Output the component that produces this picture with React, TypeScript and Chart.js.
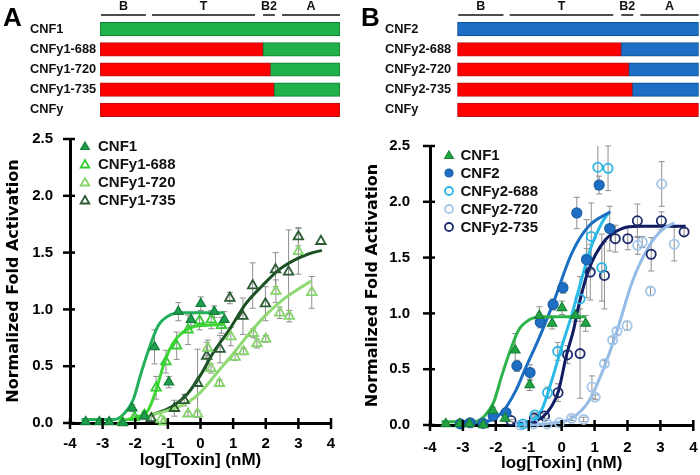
import React, { useEffect, useRef } from 'react';
import { Chart, registerables } from 'chart.js';

Chart.register(...registerables);

const FONT = '"Liberation Sans", Arial, Helvetica, sans-serif';
const TITLE_FONT = '"DejaVu Sans", "Liberation Sans", Arial, sans-serif';

// ---------------- schematic (residue numbers) ----------------
const residueTotal = 1014;
const domainLabels = ['B', 'T', 'B2', 'A'];
const domainStart = [4, 220, 689, 769];
const domainEnd = [194, 655, 739, 1014];
const constructsA = ['CNF1', 'CNFy1-688', 'CNFy1-720', 'CNFy1-735', 'CNFy'];
const constructsB = ['CNF2', 'CNFy2-688', 'CNFy2-720', 'CNFy2-735', 'CNFy'];
const cnfyJunction = [0, 688, 720, 735, 1014];

// ---------------- axis tick labels ----------------
const xTickLabels = ['-4', '-3', '-2', '-1', '0', '1', '2', '3', '4'];
const yTickLabels = ['0.0', '0.5', '1.0', '1.5', '2.0', '2.5'];

// ---------------- panel A data ----------------
const cnf1X = [-3.52, -3.1, -2.8, -2.38, -2.09, -1.72, -1.41, -0.97, -0.68, -0.29, 0.01, 0.42, 0.73];
const cnf1Y = [0.01, 0.01, 0.01, 0.0, 0.13, 0.06, 0.67, 0.36, 0.98, 0.91, 1.05, 0.98, 0.91];
const cnf1Err = [0, 0, 0, 0, 0.03, 0.03, 0.15, 0.05, 0.08, 0.05, 0.06, 0.05, 0.07];

const y1688X = [-2.4, -2.02, -1.72, -1.36, -1.06, -0.73, -0.38, -0.03, 0.33, 0.64];
const y1688Y = [0.01, 0.05, 0.07, 0.31, 0.54, 0.68, 0.82, 0.9, 0.91, 0.86];
const y1688Err = [0, 0.02, 0.03, 0.1, 0.1, 0.12, 0.13, 0.08, 0.08, 0.07];

const y1720X = [-1.21, -1.12, -0.38, -0.09, 0.22, 0.32, 0.58, 0.93, 1.06, 1.32, 1.62, 1.73, 2.0, 2.31, 2.43, 2.72, 3.0, 3.41];
const y1720Y = [0.03, 0.01, 0.08, 0.08, 0.66, 0.48, 0.35, 0.76, 0.58, 0.63, 0.79, 0.7, 0.74, 1.16, 0.97, 0.94, 1.51, 1.15];
const y1720Err = [0, 0, 0.02, 0.03, 0.07, 0.04, 0.03, 0.08, 0.03, 0.03, 0.04, 0.04, 0.03, 0.1, 0.05, 0.05, 0.2, 0.14];

const y1735X = [-1.51, -0.8, -0.5, -0.09, 0.19, 0.6, 0.9, 1.3, 1.6, 1.99, 2.3, 2.7, 3.0, 3.69];
const y1735Y = [0.04, 0.13, 0.2, 0.35, 0.59, 0.65, 1.1, 0.94, 1.21, 1.05, 1.35, 1.33, 1.64, 1.6];
const y1735Err = [0.02, 0.07, 0.05, 0.3, 0.12, 0.12, 0.05, 0.16, 0.2, 0.15, 0.15, 0.37, 0.08, 0];

const fitCnf1X = [-3.65, -2.64, -2.33, -2.07, -1.82, -1.57, -1.31, -1.0, -0.6, 0.73];
const fitCnf1Y = [0.03, 0.03, 0.085, 0.2, 0.44, 0.66, 0.85, 0.94, 0.97, 0.97];
const fitY1688X = [-2.43, -1.92, -1.61, -1.36, -1.11, -0.85, -0.54, -0.19, 0.22, 0.73];
const fitY1688Y = [0.02, 0.055, 0.11, 0.29, 0.53, 0.7, 0.8, 0.85, 0.86, 0.87];
const fitY1720X = [-1.53, -0.9, -0.4, 0.0, 0.5, 1.0, 1.5, 2.0, 2.5, 3.0, 3.4];
const fitY1720Y = [0.07, 0.12, 0.18, 0.27, 0.44, 0.61, 0.79, 0.95, 1.08, 1.18, 1.25];
const fitY1735X = [-1.51, -0.9, -0.39, 0.02, 0.37, 0.88, 1.39, 1.9, 2.41, 2.92, 3.33, 3.72];
const fitY1735Y = [0.07, 0.14, 0.26, 0.43, 0.61, 0.82, 1.05, 1.21, 1.35, 1.44, 1.49, 1.52];

// ---------------- panel B data ----------------
const cnf2X = [-3.08, -2.78, -2.39, -2.08, -1.69, -1.36, -0.96, -0.65, -0.26, 0.04, 0.46, 0.76, 1.14, 1.46];
const cnf2Y = [0.01, 0.02, 0.015, 0.08, 0.11, 0.53, 0.47, 0.92, 1.08, 1.23, 1.9, 1.48, 2.15, 1.76];
const cnf2Err = [0, 0, 0, 0.02, 0.03, 0.05, 0.07, 0.05, 0.05, 0.05, 0.14, 0.1, 0.08, 0.2];

const y2688X = [-1.17, -0.81, -0.43, -0.12, 0.56, 0.76, 0.9, 1.1, 1.22, 1.41];
const y2688Y = [0.01, 0.09, 0.29, 0.66, 1.13, 1.49, 1.69, 2.31, 1.41, 2.3];
const y2688Err = [0, 0.02, 0.05, 0.08, 0.2, 0.35, 0.3, 0.2, 0.3, 0.2];

const y2720X = [-1.25, -0.85, -0.44, -0.07, 0.3, 0.67, 0.92, 1.02, 1.3, 1.55, 1.68, 1.99, 2.31, 2.45, 2.7, 3.04, 3.42];
const y2720Y = [0.0, 0.01, 0.01, 0.02, 0.06, 0.05, 0.34, 0.25, 0.55, 0.76, 0.84, 0.89, 1.61, 1.64, 1.2, 2.16, 1.62];
const y2720Err = [0, 0, 0, 0, 0.02, 0.02, 0.1, 0.02, 0.03, 0.03, 0.03, 0.04, 0.08, 0.05, 0.04, 0.2, 0.15];

const y2735X = [-1.54, -0.83, -0.52, -0.11, 0.18, 0.56, 0.87, 1.3, 1.63, 2.01, 2.3, 2.72, 3.03, 3.72];
const y2735Y = [0.04, 0.06, 0.08, 0.29, 0.63, 0.64, 1.37, 1.34, 1.67, 1.67, 1.83, 1.53, 1.83, 1.73];
const y2735Err = [0.01, 0.02, 0.02, 0.08, 0.08, 0.4, 0.25, 0.3, 0.12, 0.1, 0.15, 0.15, 0.08, 0.03];

const fitCnf2X = [-3.1, -2.3, -1.79, -1.39, -1.08, -0.67, -0.26, 0.31, 0.82, 1.48];
const fitCnf2Y = [0.02, 0.03, 0.12, 0.31, 0.52, 0.79, 1.09, 1.54, 1.78, 1.91];
const fitY2688X = [-1.32, -0.9, -0.6, -0.3, 0.0, 0.3, 0.6, 0.9, 1.2, 1.42];
const fitY2688Y = [0.0, 0.04, 0.14, 0.4, 0.7, 0.98, 1.3, 1.6, 1.8, 1.9];
const fitY2720X = [-1.4, -0.5, 0.0, 0.31, 0.82, 1.28, 1.7, 2.14, 2.65, 3.06, 3.42];
const fitY2720Y = [0.0, 0.01, 0.03, 0.06, 0.21, 0.51, 0.86, 1.28, 1.6, 1.75, 1.81];
const fitY2735X = [-1.5, -0.9, -0.56, -0.3, -0.1, 0.15, 0.36, 0.51, 0.82, 1.33, 1.83, 2.35, 3.77];
const fitY2735Y = [0.01, 0.03, 0.075, 0.17, 0.3, 0.63, 0.85, 1.06, 1.39, 1.66, 1.76, 1.78, 1.78];

// ---------------- helpers ----------------
const pts = (xs: number[], ys: number[]) => xs.map((x, i) => ({ x, y: ys[i] }));

function pointSet(label: string, xs: number[], ys: number[], errs: number[], style: string, fill: string, stroke: string, radius: number, bw: number) {
  return {
    label,
    data: pts(xs, ys),
    errors: errs,
    showLine: false,
    pointStyle: style,
    pointRadius: radius,
    pointBackgroundColor: fill,
    pointBorderColor: stroke,
    pointBorderWidth: bw,
    backgroundColor: fill,
    borderColor: stroke,
    clip: false,
    order: 1,
  };
}

function curveSet(xs: number[], ys: number[], color: string) {
  return {
    label: '',
    data: pts(xs, ys),
    showLine: true,
    pointRadius: 0,
    borderColor: color,
    backgroundColor: color,
    borderWidth: 3,
    cubicInterpolationMode: 'monotone',
    fill: false,
    clip: false,
    order: 2,
  };
}

function drawMarker(ctx: CanvasRenderingContext2D, style: string, x: number, y: number, r: number, fill: string, stroke: string, bw: number) {
  ctx.beginPath();
  if (style === 'triangle') {
    let a = 0;
    ctx.moveTo(x + Math.sin(a) * r, y - Math.cos(a) * r);
    a += (2 * Math.PI) / 3;
    ctx.lineTo(x + Math.sin(a) * r, y - Math.cos(a) * r);
    a += (2 * Math.PI) / 3;
    ctx.lineTo(x + Math.sin(a) * r, y - Math.cos(a) * r);
    ctx.closePath();
  } else {
    ctx.arc(x, y, r, 0, Math.PI * 2);
  }
  ctx.fillStyle = fill;
  ctx.fill();
  ctx.lineWidth = bw;
  ctx.strokeStyle = stroke;
  ctx.stroke();
}

const errorBarPlugin = {
  id: 'errorBars',
  beforeDatasetsDraw(chart: any) {
    const { ctx, scales } = chart;
    const xs = scales.x, ys = scales.y;
    ctx.save();
    ctx.strokeStyle = '#8f8f8f';
    ctx.lineWidth = 1;
    chart.data.datasets.forEach((ds: any) => {
      if (!ds.errors) return;
      ds.data.forEach((p: any, i: number) => {
        const e = ds.errors[i];
        if (!e) return;
        const px = xs.getPixelForValue(p.x);
        const t = ys.getPixelForValue(Math.min(2.5, p.y + e));
        const b = ys.getPixelForValue(Math.max(0, p.y - e));
        ctx.beginPath();
        ctx.moveTo(px, t);
        ctx.lineTo(px, b);
        if (p.y + e <= 2.5) {
          ctx.moveTo(px - 3, t);
          ctx.lineTo(px + 3, t);
        }
        ctx.moveTo(px - 3, b);
        ctx.lineTo(px + 3, b);
        ctx.stroke();
      });
    });
    ctx.restore();
  },
};

const crossTicksPlugin = {
  id: 'crossTicks',
  afterDraw(chart: any) {
    const { ctx, chartArea, scales } = chart;
    ctx.save();
    ctx.strokeStyle = '#000';
    ctx.lineWidth = 2.5;
    scales.x.ticks.forEach((t: any) => {
      const p = scales.x.getPixelForValue(t.value);
      ctx.beginPath();
      ctx.moveTo(p, chartArea.bottom - 5);
      ctx.lineTo(p, chartArea.bottom + 6);
      ctx.stroke();
    });
    scales.y.ticks.forEach((t: any) => {
      const p = scales.y.getPixelForValue(t.value);
      ctx.beginPath();
      ctx.moveTo(chartArea.left - 7, p);
      ctx.lineTo(chartArea.left + 5, p);
      ctx.stroke();
    });
    ctx.restore();
  },
};

const pointLegendPlugin = {
  id: 'pointLegend',
  afterDatasetsDraw(chart: any, _args: any, o: any) {
    const { ctx, chartArea } = chart;
    const items = chart.data.datasets.filter((d: any) => !d.showLine);
    ctx.save();
    items.forEach((d: any, i: number) => {
      const cx = chartArea.left + o.dx;
      const cy = chartArea.top + o.dy + i * o.gap;
      drawMarker(ctx, d.pointStyle, cx, cy + (d.pointStyle === 'triangle' ? 1 : 0), d.pointStyle === 'triangle' ? 5 : 4, d.pointBackgroundColor, d.pointBorderColor, d.pointBorderWidth);
      ctx.fillStyle = '#111';
      ctx.font = `bold 15px ${FONT}`;
      ctx.textAlign = 'left';
      ctx.textBaseline = 'middle';
      ctx.fillText(d.label, cx + o.textDx, cy + 1);
    });
    ctx.restore();
  },
};

const headerPlugin = {
  id: 'domainHeader',
  afterDraw(chart: any) {
    const { ctx, chartArea, scales } = chart;
    const xs = scales.x;
    ctx.save();
    ctx.fillStyle = '#111';
    ctx.strokeStyle = '#111';
    ctx.lineWidth = 1.5;
    ctx.font = `bold 12.5px ${FONT}`;
    ctx.textAlign = 'center';
    ctx.textBaseline = 'middle';
    domainLabels.forEach((lab, i) => {
      const a = xs.getPixelForValue(domainStart[i]);
      const b = xs.getPixelForValue(domainEnd[i]);
      ctx.beginPath();
      ctx.moveTo(a, chartArea.top - 4);
      ctx.lineTo(b, chartArea.top - 4);
      ctx.stroke();
      ctx.fillText(lab, (a + b) / 2, chartArea.top - 12.5);
    });
    ctx.restore();
  },
};

function barConfig(labels: string[], tailFill: string, tailBorder: string, padLeft: number, axisWidth: number, padRight: number) {
  return {
    type: 'bar',
    data: {
      labels,
      datasets: [
        {
          label: 'CNFy',
          data: cnfyJunction.map((v) => (v ? v : null)),
          backgroundColor: '#fe0000',
          borderColor: '#b51515',
          borderWidth: 1,
          borderSkipped: false,
          barThickness: 13.5,
        },
        {
          label: 'native',
          data: cnfyJunction.map((v) => (residueTotal - v ? residueTotal - v : null)),
          backgroundColor: tailFill,
          borderColor: tailBorder,
          borderWidth: 1,
          borderSkipped: false,
          barThickness: 13.5,
        },
      ],
    },
    options: {
      indexAxis: 'y',
      animation: false,
      responsive: false,
      maintainAspectRatio: false,
      layout: { padding: { left: padLeft, right: padRight, top: 19, bottom: 2 } },
      scales: {
        x: { stacked: true, min: 0, max: residueTotal, display: false },
        y: {
          stacked: true,
          grid: { display: false },
          border: { display: false },
          ticks: { crossAlign: 'far', color: '#111', padding: 0, font: { family: FONT, size: 12.8, weight: 'bold' } },
          afterFit: (s: any) => {
            s.width = axisWidth;
            s.paddingTop = 0;
            s.paddingBottom = 0;
          },
        },
      },
      plugins: { legend: { display: false }, tooltip: { enabled: false } },
    },
    plugins: [headerPlugin],
  };
}

function scatterConfig(datasets: any[], g: any) {
  return {
    type: 'scatter',
    data: { datasets },
    options: {
      animation: false,
      responsive: false,
      maintainAspectRatio: false,
      layout: { padding: { left: g.padLeft, right: g.padRight, top: g.padTop, bottom: 0 } },
      scales: {
        x: {
          type: 'linear',
          min: -4,
          max: 4,
          grid: { display: false, drawTicks: false },
          border: { display: true, color: '#000', width: 3 },
          ticks: {
            stepSize: 1,
            autoSkip: false,
            maxRotation: 0,
            padding: g.xTickPad,
            color: '#000',
            font: { family: FONT, size: 15, weight: 'bold' },
            callback: (_v: any, i: number) => xTickLabels[i],
          },
          title: {
            display: true,
            text: 'log[Toxin] (nM)',
            color: '#000',
            font: { family: FONT, size: 17, weight: 'bold' },
            padding: { top: 0, bottom: g.xTitlePad },
          },
          afterFit: (s: any) => {
            s.height = g.xHeight;
            s.paddingLeft = 0;
            s.paddingRight = 0;
          },
        },
        y: {
          type: 'linear',
          min: 0,
          max: 2.5,
          grid: { display: false, drawTicks: false },
          border: { display: true, color: '#000', width: 3 },
          ticks: {
            stepSize: 0.5,
            padding: g.yTickPad,
            color: '#000',
            font: { family: FONT, size: 15, weight: 'bold' },
            callback: (_v: any, i: number) => yTickLabels[i],
          },
          title: {
            display: true,
            text: 'Normalized Fold Activation',
            color: '#000',
            font: { family: TITLE_FONT, size: 16, weight: 'bold' },
            padding: { top: 4, bottom: 0 },
          },
          afterFit: (s: any) => {
            s.width = g.yWidth;
            s.paddingTop = 0;
            s.paddingBottom = 0;
          },
        },
      },
      plugins: {
        legend: { display: false },
        tooltip: { enabled: false },
        pointLegend: g.legend,
      },
    },
    plugins: [errorBarPlugin, crossTicksPlugin, pointLegendPlugin],
  };
}

function makeA() {
  return scatterConfig(
    [
      pointSet('CNF1', cnf1X, cnf1Y, cnf1Err, 'triangle', '#1f9e4d', '#157f3a', 5.5, 1.2),
      pointSet('CNFy1-688', y1688X, y1688Y, y1688Err, 'triangle', 'rgba(255,255,255,0)', '#33cc33', 5.5, 1.8),
      pointSet('CNFy1-720', y1720X, y1720Y, y1720Err, 'triangle', 'rgba(255,255,255,0)', '#86d46c', 5.5, 1.8),
      pointSet('CNFy1-735', y1735X, y1735Y, y1735Err, 'triangle', 'rgba(255,255,255,0)', '#2b5b33', 5.5, 1.8),
      curveSet(fitCnf1X, fitCnf1Y, '#22b05c'),
      curveSet(fitY1688X, fitY1688Y, '#3fd534'),
      curveSet(fitY1720X, fitY1720Y, '#8fda72'),
      curveSet(fitY1735X, fitY1735Y, '#1b5224'),
    ],
    {
      padLeft: 0, padRight: 19, padTop: 19, yWidth: 70, xHeight: 52,
      xTickPad: 12, xTitlePad: 4, yTickPad: 17,
      legend: { dx: 15, dy: 7, gap: 18, textDx: 13 },
    }
  );
}

function makeB() {
  return scatterConfig(
    [
      pointSet('CNF1', cnf1X, cnf1Y, cnf1Err, 'triangle', '#24a544', '#178336', 5.5, 1.2),
      pointSet('CNF2', cnf2X, cnf2Y, cnf2Err, 'circle', '#1e6fc4', '#1a5fa8', 5, 1.2),
      pointSet('CNFy2-688', y2688X, y2688Y, y2688Err, 'circle', 'rgba(255,255,255,0)', '#2ab5e6', 4.6, 1.8),
      pointSet('CNFy2-720', y2720X, y2720Y, y2720Err, 'circle', 'rgba(255,255,255,0)', '#a3c5ea', 4.6, 1.8),
      pointSet('CNFy2-735', y2735X, y2735Y, y2735Err, 'circle', 'rgba(255,255,255,0)', '#1c2a6b', 4.6, 1.8),
      curveSet(fitCnf1X, fitCnf1Y, '#2db34a'),
      curveSet(fitCnf2X, fitCnf2Y, '#1b6fc2'),
      curveSet(fitY2688X, fitY2688Y, '#2bbbe8'),
      curveSet(fitY2720X, fitY2720Y, '#94bce6'),
      curveSet(fitY2735X, fitY2735Y, '#101c63'),
    ],
    {
      padLeft: 9.4, padRight: 6, padTop: 26, yWidth: 70.6, xHeight: 50,
      xTickPad: 13.5, xTitlePad: 1, yTickPad: 20,
      legend: { dx: 19, dy: 9, gap: 18, textDx: 11.5 },
    }
  );
}

function ChartBox({ make, left, top, width, height }: { make: () => any; left: number; top: number; width: number; height: number }) {
  const ref = useRef<HTMLCanvasElement>(null);
  useEffect(() => {
    const chart = new Chart(ref.current as HTMLCanvasElement, make());
    return () => chart.destroy();
  }, []);
  return (
    <canvas
      ref={ref}
      width={width}
      height={height}
      style={{ position: 'absolute', left, top, width, height, display: 'block' }}
    />
  );
}

const panelLabel: React.CSSProperties = {
  position: 'absolute',
  top: 3.6,
  font: `bold 26px ${FONT}`,
  lineHeight: '26px',
  color: '#000',
};

export default function App() {
  return (
    <div style={{ position: 'fixed', left: 0, top: 0, width: 700, height: 475, background: '#fff', overflow: 'hidden' }}>
      <ChartBox make={() => barConfig(constructsA, '#21b14b', '#127a34', 30, 70, 10)} left={0} top={0} width={350} height={122} />
      <ChartBox make={() => barConfig(constructsB, '#1c6fc4', '#124f8f', 35, 72.3, 1.3)} left={350} top={0} width={350} height={122} />
      <ChartBox make={makeA} left={0} top={120} width={350} height={355} />
      <ChartBox make={makeB} left={350} top={120} width={350} height={355} />
      <div style={{ ...panelLabel, left: 3 }}>A</div>
      <div style={{ ...panelLabel, left: 361 }}>B</div>
    </div>
  );
}
